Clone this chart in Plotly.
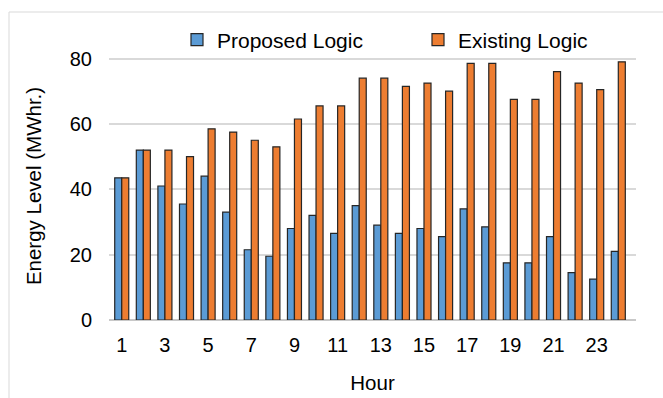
import plotly.graph_objects as go

# Hourly energy levels (MWhr.) for the two control strategies
hours = list(range(1, 25))
proposed_logic = [43.5, 52, 41, 35.5, 44, 33, 21.5, 19.5, 28, 32, 26.5, 35,
                  29, 26.5, 28, 25.5, 34, 28.5, 17.5, 17.5, 25.5, 14.5, 12.5, 21]
existing_logic = [43.5, 52, 52, 50, 58.5, 57.5, 55, 53, 61.5, 65.5, 65.5, 74,
                  74, 71.5, 72.5, 70, 78.5, 78.5, 67.5, 67.5, 76, 72.5, 70.5, 79]
x_tick_values = list(range(1, 24, 2))
y_tick_values = [0, 20, 40, 60, 80]

FONT = "Liberation Sans, Arial, sans-serif"
W, H = 663, 398
L, R, T, B = 109, 27, 52, 78
plot_w = W - L - R
plot_h = H - T - B


def px_x(p):
    return (p - L) / plot_w


def px_y(p):
    return (T + plot_h - p) / plot_h


fig = go.Figure()
fig.add_trace(go.Bar(
    x=hours, y=proposed_logic, name="Proposed Logic",
    marker=dict(color="#5B9BD5", line=dict(color="#262626", width=1.2)),
))
fig.add_trace(go.Bar(
    x=hours, y=existing_logic, name="Existing Logic",
    marker=dict(color="#ED7D31", line=dict(color="#262626", width=1.2)),
))

# light outer frame of the chart area (left and top edges)
frame = dict(color="#d9d9d9", width=1)
fig.add_shape(type="line", xref="paper", yref="paper",
              x0=px_x(9), x1=px_x(9), y0=px_y(H + 5), y1=px_y(12), line=frame)
fig.add_shape(type="line", xref="paper", yref="paper",
              x0=px_x(9), x1=px_x(W + 5), y0=px_y(12), y1=px_y(12), line=frame)

fig.update_layout(
    width=W, height=H,
    margin=dict(l=L, r=R, t=T, b=B, autoexpand=False),
    paper_bgcolor="white", plot_bgcolor="white",
    barmode="group", bargap=0.35, bargroupgap=0,
    font=dict(family=FONT, size=20, color="#000000"),
    showlegend=True,
    legend=dict(
        orientation="h", x=px_x(177), y=px_y(40), xanchor="left", yanchor="middle",
        font=dict(size=21), entrywidth=196, entrywidthmode="pixels",
        itemwidth=30, bgcolor="rgba(0,0,0,0)",
    ),
    xaxis=dict(
        range=[0.41, 24.82], tickmode="array", tickvals=x_tick_values,
        ticktext=[str(v) for v in x_tick_values],
        showgrid=False, zeroline=False, showline=False, ticks="",
        ticklabelstandoff=11,
        title=dict(text="Hour", font=dict(size=20.5), standoff=20),
    ),
    yaxis=dict(
        range=[0, 82], tickmode="array", tickvals=y_tick_values,
        showgrid=True, gridcolor="#d9d9d9", gridwidth=1.5,
        zeroline=True, zerolinecolor="#c8c8c8", zerolinewidth=1.5,
        showline=False, ticks="", ticklabelstandoff=16,
        title=dict(text="Energy Level (MWhr.)", font=dict(size=20.5), standoff=22),
    ),
)

fig.write_html("out.html")
